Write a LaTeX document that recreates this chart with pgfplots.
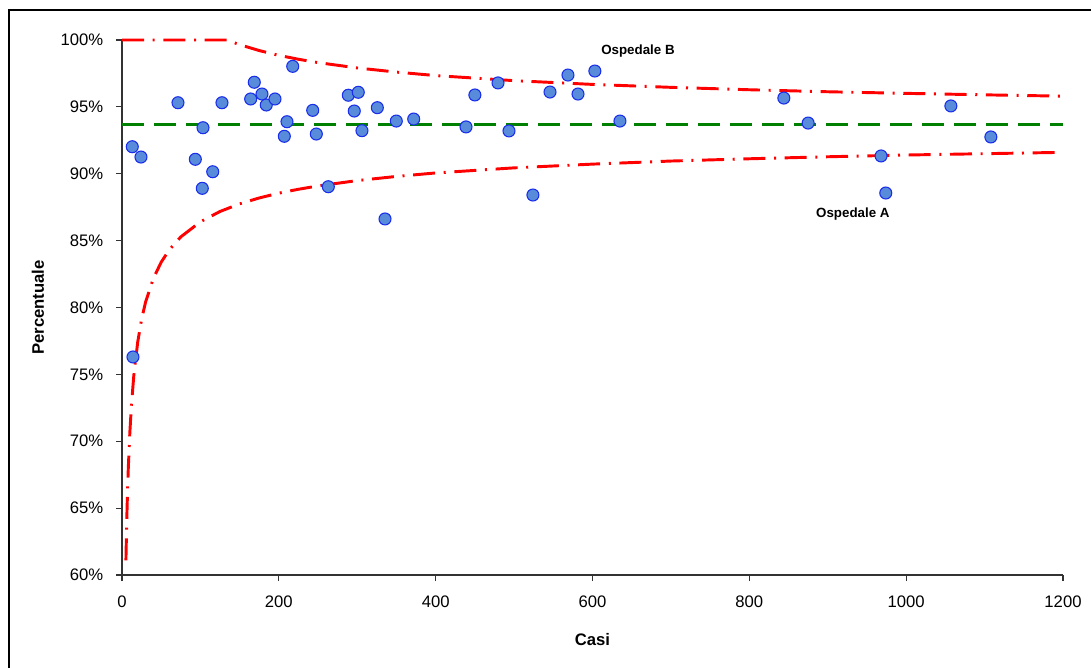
\documentclass[border=0pt]{standalone}
\usepackage{pgfplots}
\pgfplotsset{compat=1.18}
\usepackage{fontspec}
\setmainfont{Liberation Sans}
\definecolor{ptfill}{RGB}{88,140,218}
\definecolor{ptedge}{RGB}{25,45,235}
\definecolor{meangreen}{RGB}{0,128,0}
\begin{document}
\begin{tikzpicture}
\useasboundingbox (0,0) rectangle (818.25pt,500.25pt);
\draw[line width=1.5pt,black] (6.75pt,-20pt) rectangle (830pt,492.75pt);
\begin{axis}[
  at={(91.5pt,69pt)}, anchor=south west,
  scale only axis, width=705.75pt, height=401.25pt,
  xmin=0, xmax=1200, ymin=60, ymax=100,
  axis x line=bottom, axis y line=left,
  axis line style={-, black!80, line width=0.8pt},
  tick align=outside, major tick length=4.5pt,
  tick style={black!80, line width=0.8pt},
  xtick={0,200,...,1200}, ytick={60,65,...,100},
  /pgf/number format/assume math mode=true,
  /pgf/number format/1000 sep={},
  ticklabel style={font=\fontsize{12.5}{15}\selectfont},
  xticklabel style={yshift=-7.5pt},
  yticklabel style={xshift=-6pt},
  yticklabel={\pgfmathprintnumber{\tick}\%},
  xlabel={Casi}, ylabel={Percentuale},
  label style={font=\fontsize{12.5}{15}\selectfont\bfseries},
  xlabel style={at={(axis description cs:0.5,-0.1215)}, anchor=center},
  ylabel style={at={(axis description cs:-0.0893,0.5)}, anchor=center},
  clip=false,
]
% mean
\addplot[meangreen, line width=2.25pt, dash pattern=on 16.5pt off 7.5pt] coordinates {(0,93.7) (1200,93.7)};
% upper limit
\addplot[red, line width=2.2pt, dash pattern=on 16.5pt off 6.5pt on 1.5pt off 6.5pt] coordinates {
(0,100) (134,100) (150,99.65) (175,99.21) (200,98.85) (225,98.56) (250,98.31) (300,97.91) (350,97.60) (400,97.34) (500,96.96) (600,96.68) (700,96.46) (800,96.28) (900,96.13) (1000,96.01) (1100,95.90) (1200,95.80)};
% lower limit
\addplot[red, line width=2.2pt, dash pattern=on 16.5pt off 6.5pt on 1.5pt off 6.5pt] coordinates {
(5,61.10) (6,63.94) (7,66.15) (8,67.93) (10,70.65) (12,72.66) (15,74.88) (20,77.40) (25,79.12) (30,80.39) (40,82.18) (50,83.39) (60,84.29) (75,85.28) (100,86.41) (125,87.18) (150,87.75) (175,88.19) (200,88.55) (225,88.84) (250,89.09) (300,89.49) (350,89.80) (400,90.06) (500,90.44) (600,90.72) (700,90.95) (800,91.12) (900,91.27) (1000,91.40) (1100,91.50) (1200,91.60)};
% hospitals
\addplot[only marks, mark=*, mark size=4.5pt, mark options={fill=ptfill, draw=ptedge, line width=0.8pt}] coordinates {
(13.1,92.02) (24.2,91.25) (14,76.30) (71.4,95.31) (93.5,91.08) (103.3,93.44) (102.4,88.91) (115.7,90.15)
(127.5,95.31) (164.1,95.59) (168.7,96.84) (178.5,95.96) (184,95.14) (195.1,95.59) (217.7,98.03) (207,92.80)
(210.4,93.89) (243.2,94.74) (247.8,92.97) (263.1,89.03) (288.6,95.87) (296.2,94.69) (301.3,96.09) (306,93.22)
(325.6,94.94) (335.4,86.62) (349.8,93.94) (372,94.09) (438.7,93.50) (450,95.89) (479.5,96.79) (493.5,93.20)
(524,88.41) (545.8,96.11) (568.7,97.38) (581.5,95.96) (603,97.68) (635,93.94) (844,95.66) (875,93.79)
(968,91.33) (974,88.56) (1057,95.07) (1108,92.75)};
\node[font=\fontsize{10}{12}\selectfont\bfseries] at (axis cs:658,99.2) {Ospedale B};
\node[font=\fontsize{10}{12}\selectfont\bfseries] at (axis cs:932,86.95) {Ospedale A};
\end{axis}
\end{tikzpicture}
\end{document}
